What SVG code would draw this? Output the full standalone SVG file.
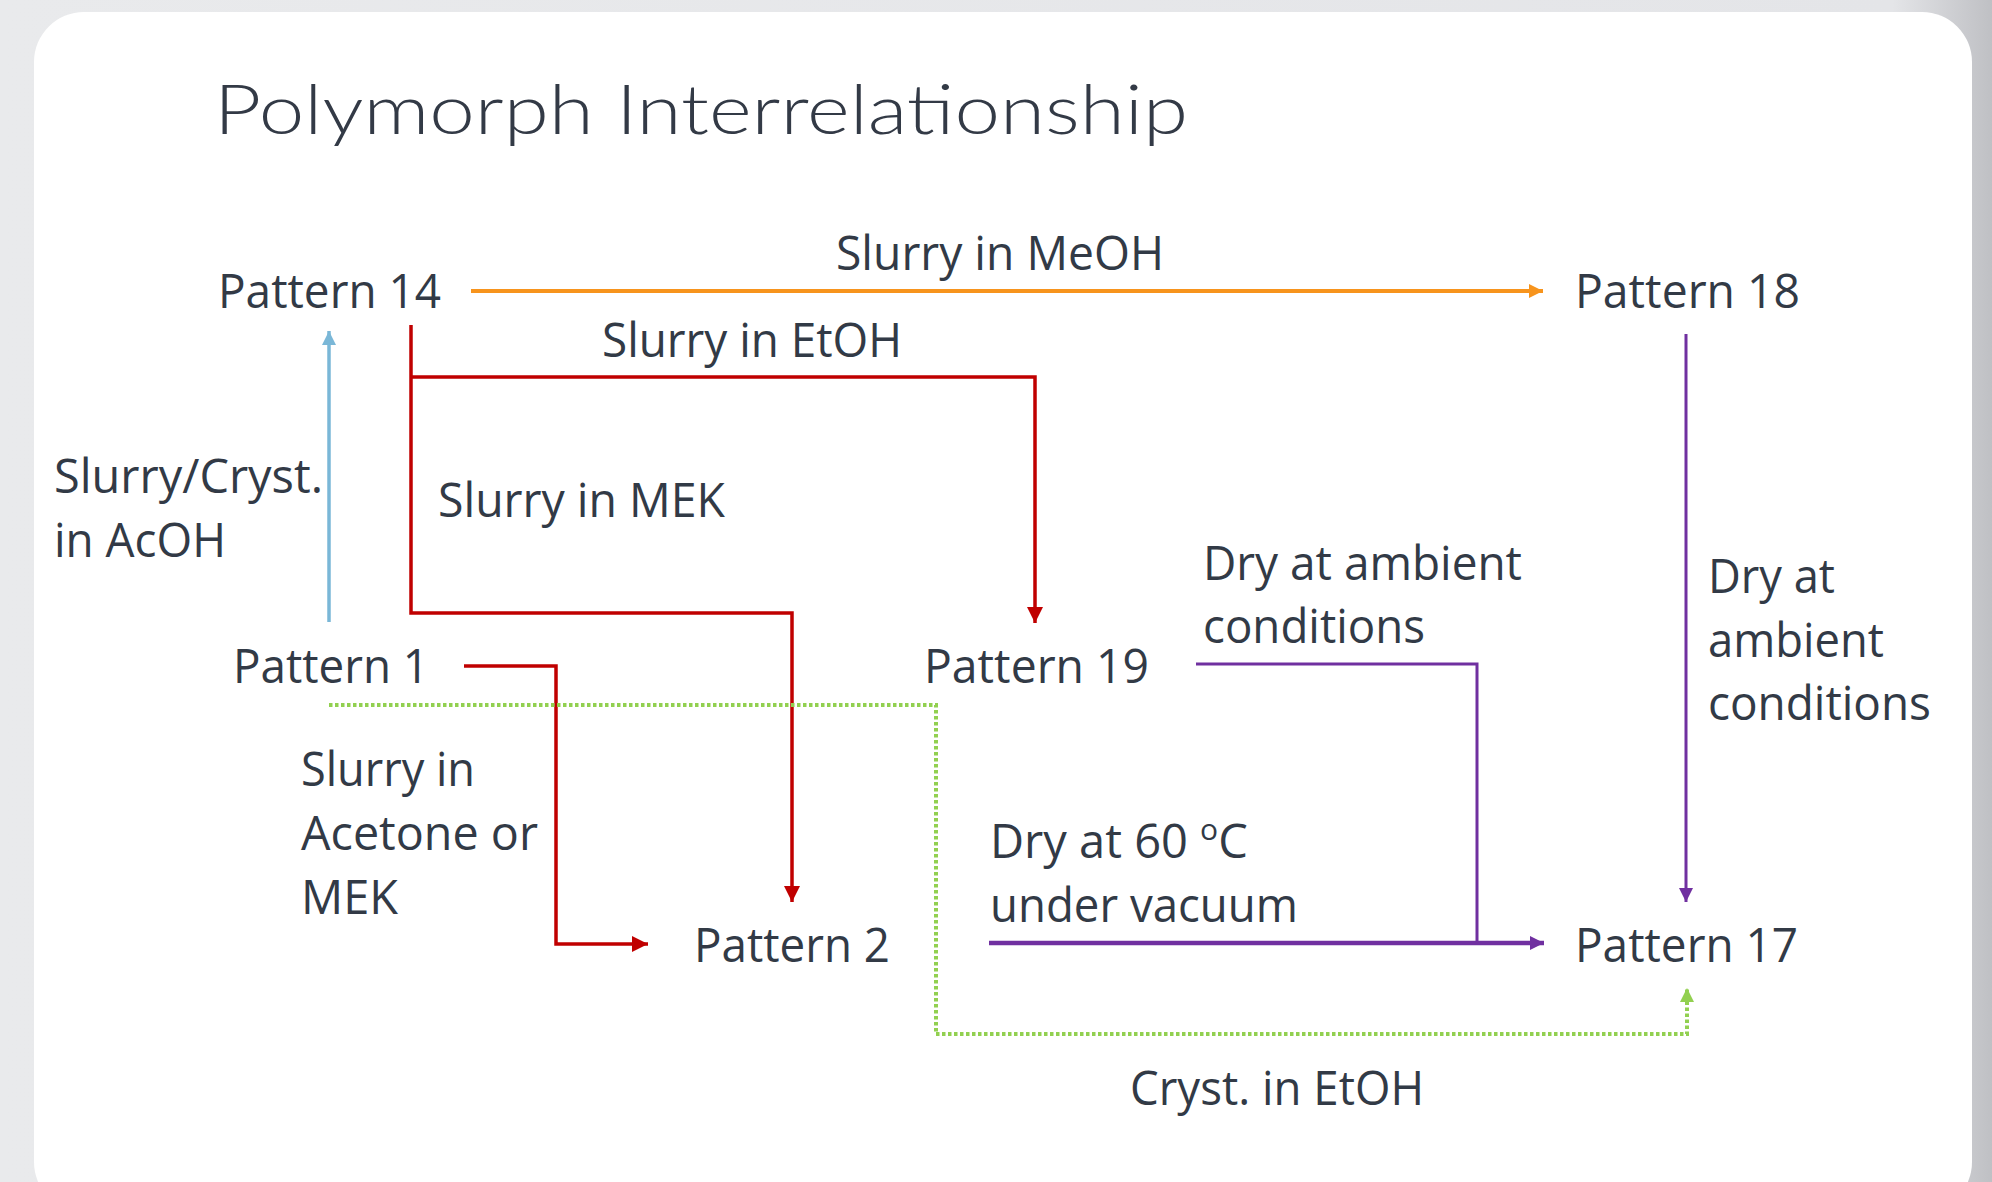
<svg xmlns="http://www.w3.org/2000/svg" width="1992" height="1182" viewBox="0 0 1992 1182">
<style>
.t{font-family:"Open Sans","Noto Sans","Liberation Sans",sans-serif;font-size:47px;fill:#323a46}
.title{font-family:Lato,"Open Sans","Liberation Sans",sans-serif;font-size:68px;font-weight:300;fill:#333a46}
.c{fill:none;stroke-linejoin:miter}
</style>
<defs>
<linearGradient id="bg" x1="0" y1="0" x2="1" y2="0">
<stop offset="0" stop-color="#e9eaec"/>
<stop offset="0.95" stop-color="#e4e5e8"/>
<stop offset="1" stop-color="#bfc0c4"/>
</linearGradient>
<marker id="aO" markerUnits="userSpaceOnUse" markerWidth="16" markerHeight="16" refX="14" refY="7" orient="auto"><path d="M0,0 L14,7 L0,14 z" fill="#f7941d"/></marker>
<marker id="aR" markerUnits="userSpaceOnUse" markerWidth="18" markerHeight="18" refX="16" refY="8" orient="auto"><path d="M0,0 L16,8 L0,16 z" fill="#c00000"/></marker>
<marker id="aB" markerUnits="userSpaceOnUse" markerWidth="16" markerHeight="16" refX="14" refY="7" orient="auto"><path d="M0,0 L14,7 L0,14 z" fill="#7ab7d7"/></marker>
<marker id="aP" markerUnits="userSpaceOnUse" markerWidth="16" markerHeight="16" refX="14" refY="7" orient="auto"><path d="M0,0 L14,7 L0,14 z" fill="#7030a0"/></marker>
<marker id="aG" markerUnits="userSpaceOnUse" markerWidth="16" markerHeight="16" refX="14" refY="7" orient="auto"><path d="M0,0 L14,7 L0,14 z" fill="#92d050"/></marker>
</defs>
<rect width="1992" height="1182" fill="url(#bg)"/>
<rect x="34" y="12" width="1938" height="1200" rx="50" fill="#ffffff"/>
<text class="title" x="214" y="134" textLength="974" lengthAdjust="spacingAndGlyphs">Polymorph Interrelationship</text>

<g id="connectors">
<path class="c" d="M471,291 H1543" stroke="#f7941d" stroke-width="4" marker-end="url(#aO)"/>
<path class="c" d="M329,622 V331" stroke="#7ab7d7" stroke-width="3.5" marker-end="url(#aB)"/>
<path class="c" d="M411,325 V613 H792 V902" stroke="#c00000" stroke-width="3.5" marker-end="url(#aR)"/>
<path class="c" d="M411,377 H1035 V623" stroke="#c00000" stroke-width="3.5" marker-end="url(#aR)"/>
<path class="c" d="M464,666 H556 V944 H648" stroke="#c00000" stroke-width="3.5" marker-end="url(#aR)"/>
<path class="c" d="M329,705 H936 V1034 H1687 V988" stroke="#92d050" stroke-width="4" stroke-dasharray="3.5 2.5" marker-end="url(#aG)"/>
<path class="c" d="M1686,334 V902" stroke="#7030a0" stroke-width="3" marker-end="url(#aP)"/>
<path class="c" d="M1196,664 H1477 V942" stroke="#7030a0" stroke-width="3"/>
<path class="c" d="M989,943 H1544" stroke="#7030a0" stroke-width="4.5" marker-end="url(#aP)"/>
</g>

<g id="labels">
<text class="t" x="836" y="270" textLength="328" lengthAdjust="spacingAndGlyphs">Slurry in MeOH</text>
<text class="t" x="602" y="357" textLength="300" lengthAdjust="spacingAndGlyphs">Slurry in EtOH</text>
<text class="t" x="54" y="493" textLength="269" lengthAdjust="spacingAndGlyphs">Slurry/Cryst.</text>
<text class="t" x="54" y="557" textLength="172" lengthAdjust="spacingAndGlyphs">in AcOH</text>
<text class="t" x="438" y="517" textLength="287" lengthAdjust="spacingAndGlyphs">Slurry in MEK</text>
<text class="t" x="1203" y="580" textLength="319" lengthAdjust="spacingAndGlyphs">Dry at ambient</text>
<text class="t" x="1203" y="643" textLength="222" lengthAdjust="spacingAndGlyphs">conditions</text>
<text class="t" x="1708" y="593" textLength="127" lengthAdjust="spacingAndGlyphs">Dry at</text>
<text class="t" x="1708" y="657" textLength="176" lengthAdjust="spacingAndGlyphs">ambient</text>
<text class="t" x="1708" y="720" textLength="223" lengthAdjust="spacingAndGlyphs">conditions</text>
<text class="t" x="301" y="786" textLength="174" lengthAdjust="spacingAndGlyphs">Slurry in</text>
<text class="t" x="301" y="850" textLength="237" lengthAdjust="spacingAndGlyphs">Acetone or</text>
<text class="t" x="301" y="914" textLength="97" lengthAdjust="spacingAndGlyphs">MEK</text>
<text class="t" x="990" y="858">Dry at 60 <tspan font-size="30" dy="-18">o</tspan><tspan dy="18">C</tspan></text>
<text class="t" x="990" y="922" textLength="308" lengthAdjust="spacingAndGlyphs">under vacuum</text>
<text class="t" x="1130" y="1105" textLength="294" lengthAdjust="spacingAndGlyphs">Cryst. in EtOH</text>
</g>

<g id="pattern14"><text class="t" x="218" y="308" textLength="223" lengthAdjust="spacingAndGlyphs">Pattern 14</text></g>
<g id="pattern18"><text class="t" x="1575" y="308" textLength="225" lengthAdjust="spacingAndGlyphs">Pattern 18</text></g>
<g id="pattern1"><text class="t" x="233" y="683" textLength="196" lengthAdjust="spacingAndGlyphs">Pattern 1</text></g>
<g id="pattern19"><text class="t" x="924" y="683" textLength="225" lengthAdjust="spacingAndGlyphs">Pattern 19</text></g>
<g id="pattern2"><text class="t" x="694" y="962" textLength="196" lengthAdjust="spacingAndGlyphs">Pattern 2</text></g>
<g id="pattern17"><text class="t" x="1575" y="962" textLength="223" lengthAdjust="spacingAndGlyphs">Pattern 17</text></g>
</svg>
